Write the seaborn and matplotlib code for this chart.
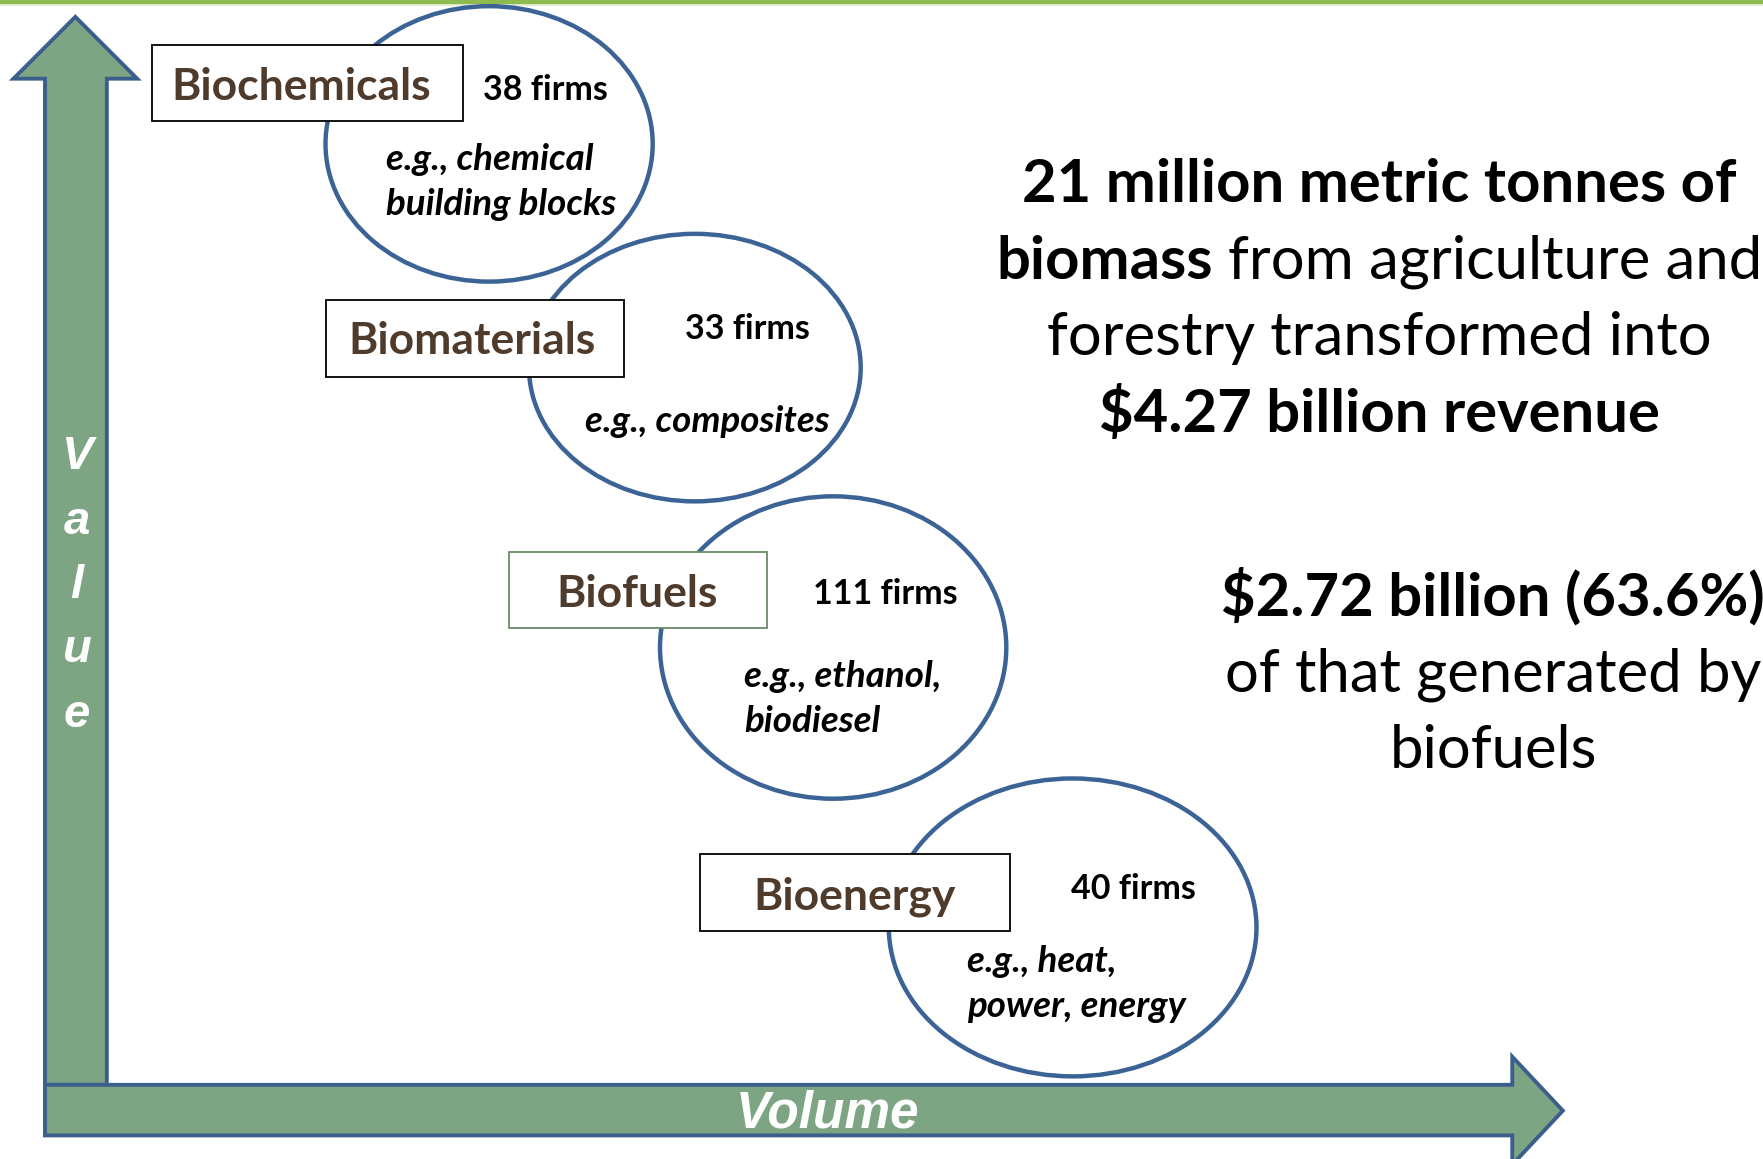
import matplotlib
matplotlib.use("Agg")
import matplotlib.pyplot as plt
from matplotlib.patches import Ellipse, Rectangle, Polygon
import seaborn as sns

# ---- data ----
sectors = ["Biochemicals", "Biomaterials", "Biofuels", "Bioenergy"]
firms = [38, 33, 111, 40]
examples = [["e.g., chemical", "building blocks"],
            ["e.g., composites"],
            ["e.g., ethanol,", "biodiesel"],
            ["e.g., heat,", "power, energy"]]
biomass_mt = 21
revenue_bn = 4.27
biofuel_bn = 2.72
biofuel_share = 63.6

# ---- layout (canvas units, 1568 x 1031, y down) ----
W, H = 1568, 1031
ell_xy = [(435, 128), (618, 327), (741, 576), (954, 825)]
ell_wh = [(291, 245), (295, 238), (308, 269), (327, 265)]
box_x = [(135, 412), (290, 555), (453, 682), (623, 898)]
box_y = [(40, 108), (267, 335), (491, 559), (760, 828)]
label_x = [268, 420, 567, 760]
box_base = [89, 315, 540, 809]
firm_xy = [(485, 89), (665, 302), (787, 537), (1008, 800)]
ex_x = [343, 520, 662, 860]
ex_base = [[151, 191], [384], [611, 651], [865, 905]]

sns.set_theme(style="white")
plt.rcParams["font.family"] = ["Lato", "DejaVu Sans"]

arrow_fill = "#7ea583"
arrow_edge = "#3b5e8c"
ring = "#3c6395"
label_col = "#4e3b2c"

fig = plt.figure(figsize=(17.63, 11.59), dpi=100)
ax = fig.add_axes([0, 0, 1, 1])
ax.set_xlim(0, W)
ax.set_ylim(H, 0)
ax.axis("off")

# top rule
ax.add_patch(Rectangle((0, 0), W, 3.5, color="#8dbb4f", lw=0, zorder=1))
for i, a in enumerate([0.35, 0.2, 0.1]):
    ax.add_patch(Rectangle((0, 3.5 + i), W, 1, color="#8dbb4f", alpha=a, lw=0, zorder=1))

# axis arrows
vert = [(40, 965), (40, 70), (12, 70), (67, 15), (122, 70), (95, 70), (95, 965)]
horz = [(40, 965), (1345, 965), (1345, 940), (1390, 988), (1345, 1036), (1345, 1010), (40, 1010)]
ax.add_patch(Polygon(vert, closed=True, fc=arrow_fill, ec=arrow_edge, lw=2.8, zorder=2))
ax.add_patch(Polygon(horz, closed=True, fc=arrow_fill, ec=arrow_edge, lw=2.8, zorder=2))

for ch, yb in zip("Value", [417, 475, 532, 589, 647]):
    ax.text(68, yb, ch, color="white", fontsize=34, fontweight="bold", fontstyle="italic",
            family="Liberation Sans", ha="center", va="baseline", zorder=3)
ax.text(736, 1003, "Volume", color="white", fontsize=37, fontweight="bold", fontstyle="italic",
        family="Liberation Sans", ha="center", va="baseline", zorder=3)

# sector bubbles
for i, name in enumerate(sectors):
    (cx, cy), (ew, eh) = ell_xy[i], ell_wh[i]
    ax.add_patch(Ellipse((cx, cy), ew, eh, fc="white", ec=ring, lw=3.2, zorder=4))
    x0, x1 = box_x[i]
    y0, y1 = box_y[i]
    ec = "#6a8a6a" if name == "Biofuels" else "black"
    ax.add_patch(Rectangle((x0, y0), x1 - x0, y1 - y0, fc="white", ec=ec, lw=1.3, zorder=5))
    ax.text(label_x[i], box_base[i], name, color=label_col, fontsize=32, fontweight="bold",
            ha="center", va="baseline", zorder=6)
    ax.text(firm_xy[i][0], firm_xy[i][1], f"{firms[i]} firms", color="black", fontsize=24.5,
            fontweight="bold", ha="center", va="baseline", zorder=6)
    for line, yb in zip(examples[i], ex_base[i]):
        ax.text(ex_x[i], yb, line, color="black", fontsize=26.5, fontweight="bold",
                fontstyle="italic", ha="left", va="baseline", zorder=6)

# right-hand summary text with mixed weights
renderer = fig.canvas.get_renderer()
px_per_unit = fig.bbox.width / W


def width_of(s, **kw):
    t = ax.text(0, 0, s, **kw)
    w = t.get_window_extent(renderer).width / px_per_unit
    t.remove()
    return w


def mixed_line(xc, yb, parts, size):
    sp = width_of("x x", fontsize=size) - width_of("xx", fontsize=size)
    widths = [width_of(s, fontsize=size, fontweight=wt) for s, wt in parts]
    total = sum(widths) + sp * (len(parts) - 1)
    x = xc - total / 2
    for (s, wt), w in zip(parts, widths):
        ax.text(x, yb, s, fontsize=size, fontweight=wt, color="black",
                ha="left", va="baseline", zorder=6)
        x += w + sp


big = 43
block1 = [
    [(f"{biomass_mt} million metric tonnes of", "bold")],
    [("biomass", "bold"), ("from agriculture and", "normal")],
    [("forestry transformed into", "normal")],
    [(f"${revenue_bn:.2f} billion revenue", "bold")],
]
for parts, yb in zip(block1, [180, 248, 316, 384]):
    mixed_line(1227, yb, parts, big)

block2 = [
    [(f"${biofuel_bn:.2f} billion ({biofuel_share:.1f}%)", "bold")],
    [("of that generated by", "normal")],
    [("biofuels", "normal")],
]
for parts, yb in zip(block2, [548, 615, 683]):
    mixed_line(1328, yb, parts, big)

fig.savefig("out.png", dpi=100)
